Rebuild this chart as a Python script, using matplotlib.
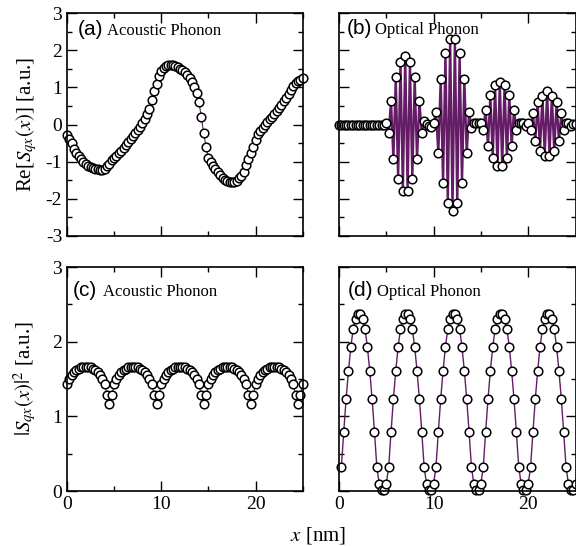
import numpy as np
import matplotlib
matplotlib.use("Agg")
import matplotlib.pyplot as plt
from matplotlib.ticker import MultipleLocator

plt.rcParams['font.family'] = ['Liberation Serif', 'DejaVu Serif']
plt.rcParams['mathtext.fontset'] = 'stix'
plt.rcParams['axes.unicode_minus'] = False

# position along the wire [nm]
x_nm = np.linspace(0.0, 25.0, 101)
x_nm_opt_sq = np.linspace(0.25, 25.0, 100)

# (a) Re[S_qx(x)], acoustic phonon
re_acoustic = [
    -0.28, -0.39, -0.51, -0.65, -0.77, -0.86, -0.93, -1.00, -1.06, -1.11,
    -1.15, -1.18, -1.20, -1.21, -1.22, -1.22, -1.20, -1.13, -1.05, -0.96,
    -0.90, -0.84, -0.78, -0.71, -0.63, -0.55, -0.47, -0.39, -0.31, -0.23,
    -0.15, -0.07, 0.03, 0.15, 0.27, 0.42, 0.65, 0.89, 1.09, 1.30,
    1.45, 1.53, 1.58, 1.60, 1.60, 1.59, 1.57, 1.54, 1.50, 1.46,
    1.41, 1.34, 1.24, 1.14, 1.01, 0.84, 0.60, 0.19, -0.24, -0.60,
    -0.90, -1.02, -1.11, -1.19, -1.28, -1.36, -1.43, -1.48, -1.52, -1.54,
    -1.55, -1.54, -1.51, -1.45, -1.39, -1.27, -1.10, -0.94, -0.77, -0.60,
    -0.43, -0.26, -0.17, -0.09, -0.02, 0.06, 0.14, 0.21, 0.28, 0.36,
    0.44, 0.53, 0.62, 0.72, 0.83, 0.93, 1.03, 1.11, 1.17, 1.21,
    1.25,
]

# (b) Re[S_qx(x)], optical phonon
re_optical = [
    0.00, 0.00, 0.00, 0.00, 0.00, 0.00, 0.00, 0.00, 0.00, 0.00,
    0.00, 0.00, 0.00, 0.00, 0.00, 0.00, 0.00, 0.00, 0.00, 0.00,
    0.05, -0.24, 0.64, -0.94, 1.27, -1.47, 1.69, -1.78, 1.84, -1.78,
    1.69, -1.47, 1.27, -0.94, 0.64, -0.24, 0.10, 0.02, -0.05, -0.06,
    0.04, 0.34, -0.78, 1.22, -1.58, 1.93, -2.12, 2.29, -2.32, 2.29,
    -2.12, 1.93, -1.58, 1.22, -0.78, 0.34, -0.10, 0.03, 0.05, 0.05,
    0.04, -0.15, 0.39, -0.58, 0.79, -0.91, 1.06, -1.12, 1.15, -1.12,
    1.06, -0.91, 0.79, -0.58, 0.39, -0.15, 0.05, 0.05, 0.03, -0.04,
    0.05, -0.15, 0.30, -0.44, 0.60, -0.72, 0.78, -0.84, 0.91, -0.84,
    0.78, -0.72, 0.60, -0.44, 0.30, -0.15, 0.05, 0.05, -0.05, 0.02,
    0.02,
]

# (c) |S_qx(x)|^2, acoustic phonon
abs2_acoustic = [
    1.43, 1.50, 1.55, 1.59, 1.62, 1.64, 1.655, 1.66, 1.665, 1.66,
    1.655, 1.64, 1.62, 1.59, 1.55, 1.50, 1.43, 1.28, 1.17, 1.28,
    1.43, 1.50, 1.55, 1.59, 1.62, 1.64, 1.655, 1.66, 1.665, 1.66,
    1.655, 1.64, 1.62, 1.59, 1.55, 1.50, 1.43, 1.28, 1.17, 1.28,
    1.43, 1.50, 1.55, 1.59, 1.62, 1.64, 1.655, 1.66, 1.665, 1.66,
    1.655, 1.64, 1.62, 1.59, 1.55, 1.50, 1.43, 1.28, 1.17, 1.28,
    1.43, 1.50, 1.55, 1.59, 1.62, 1.64, 1.655, 1.66, 1.665, 1.66,
    1.655, 1.64, 1.62, 1.59, 1.55, 1.50, 1.43, 1.28, 1.17, 1.28,
    1.43, 1.50, 1.55, 1.59, 1.62, 1.64, 1.655, 1.66, 1.665, 1.66,
    1.655, 1.64, 1.62, 1.59, 1.55, 1.50, 1.43, 1.28, 1.17, 1.28,
    1.43,
]

# (d) |S_qx(x)|^2, optical phonon
abs2_optical = [
    0.32, 0.79, 1.23, 1.61, 1.93, 2.17, 2.30, 2.37, 2.37, 2.30,
    2.17, 1.93, 1.61, 1.23, 0.79, 0.32, 0.10, 0.01, 0.01, 0.10,
    0.32, 0.79, 1.23, 1.61, 1.93, 2.17, 2.30, 2.37, 2.37, 2.30,
    2.17, 1.93, 1.61, 1.23, 0.79, 0.32, 0.10, 0.01, 0.01, 0.10,
    0.32, 0.79, 1.23, 1.61, 1.93, 2.17, 2.30, 2.37, 2.37, 2.30,
    2.17, 1.93, 1.61, 1.23, 0.79, 0.32, 0.10, 0.01, 0.01, 0.10,
    0.32, 0.79, 1.23, 1.61, 1.93, 2.17, 2.30, 2.37, 2.37, 2.30,
    2.17, 1.93, 1.61, 1.23, 0.79, 0.32, 0.10, 0.01, 0.01, 0.10,
    0.32, 0.79, 1.23, 1.61, 1.93, 2.17, 2.30, 2.37, 2.37, 2.30,
    2.17, 1.93, 1.61, 1.23, 0.79, 0.32, 0.10, 0.01, 0.01, 0.10,
]

PURPLE = '#641c66'
W, H = 576.0, 546.0

fig = plt.figure(figsize=(W / 100, H / 100), dpi=100)


def px_axes(left, top, right, bottom):
    return fig.add_axes([left / W, 1 - bottom / H, (right - left) / W, (bottom - top) / H])


ax_a = px_axes(67, 13, 302.7, 236)
ax_b = px_axes(339, 13, 575.5, 236)
ax_c = px_axes(67, 267, 302.7, 491)
ax_d = px_axes(339, 267, 575.5, 491)

marker_kw = dict(marker='o', ms=6.2, mfc='white', mec='black', mew=1.1, clip_on=False)

ax_a.plot(x_nm, re_acoustic, '-', color=PURPLE, lw=0.8, **marker_kw)
ax_b.plot(x_nm, re_optical, '-', color=PURPLE, lw=1.7, **marker_kw)
ax_c.plot(x_nm, abs2_acoustic, '-', color=PURPLE, lw=0.8, **marker_kw)
ax_d.plot(x_nm_opt_sq, abs2_optical, '-', color=PURPLE, lw=1.0, **marker_kw)

for ax in (ax_a, ax_b, ax_c, ax_d):
    ax.set_xlim(0, 25)
    ax.xaxis.set_major_locator(MultipleLocator(10))
    ax.xaxis.set_minor_locator(MultipleLocator(5))
    ax.yaxis.set_major_locator(MultipleLocator(1))
    ax.yaxis.set_minor_locator(MultipleLocator(0.5))
    ax.tick_params(which='both', direction='in', top=True, right=True, labelsize=14, width=1.0)
    ax.tick_params(which='major', length=7)
    ax.tick_params(which='minor', length=3.5)
    for s in ax.spines.values():
        s.set_linewidth(1.2)

for ax in (ax_a, ax_b):
    ax.set_ylim(-3, 3)
for ax in (ax_c, ax_d):
    ax.set_ylim(0, 3)

ax_a.tick_params(labelbottom=False)
ax_b.tick_params(labelbottom=False, labelleft=False)
ax_d.tick_params(labelleft=False)

ax_a.set_ylabel(r'Re[$S_{qx}(x)$] [a.u.]', fontsize=15)
ax_c.set_ylabel(r'$|S_{qx}(x)|^2$ [a.u.]', fontsize=15)
ax_a.yaxis.set_label_coords(-0.12, 0.5)
ax_c.yaxis.set_label_coords(-0.12, 0.5)

fig.text(318 / W, 1 - 536 / H, r'$x$ [nm]', fontsize=15, ha='center', va='center')

panel_text = [
    (ax_a, '(a)', 'Acoustic Phonon', 0.047, 0.170, 0.903),
    (ax_b, '(b)', 'Optical Phonon', 0.032, 0.152, 0.908),
    (ax_c, '(c)', 'Acoustic Phonon', 0.024, 0.151, 0.871),
    (ax_d, '(d)', 'Optical Phonon', 0.039, 0.162, 0.871),
]
for ax, tag, name, xt, xn, yb in panel_text:
    ax.text(xt, yb, tag, transform=ax.transAxes, fontsize=15,
            family=['Liberation Sans', 'DejaVu Sans'], va='baseline', ha='left')
    ax.text(xn, yb, name, transform=ax.transAxes, fontsize=12, va='baseline', ha='left')

fig.savefig('out.png', dpi=100)
